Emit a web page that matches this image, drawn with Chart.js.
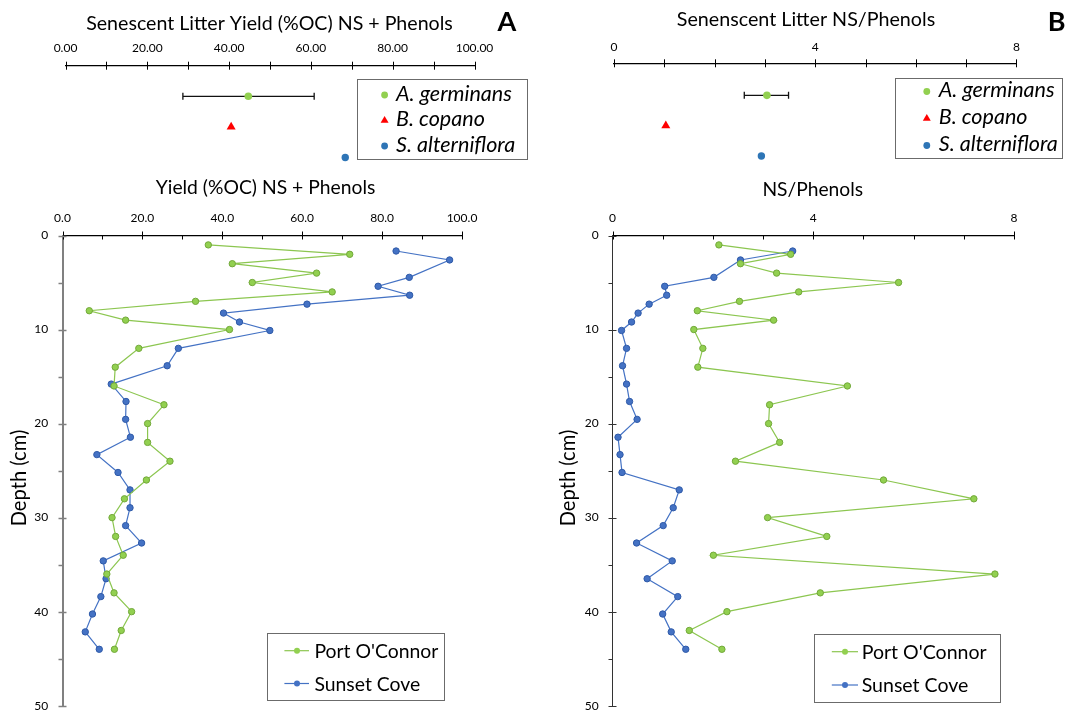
<!DOCTYPE html>
<html><head><meta charset="utf-8">
<script src="https://cdn.jsdelivr.net/npm/chart.js@4.4.1/dist/chart.umd.min.js"></script>
<style>
html,body{margin:0;padding:0;background:#fff;}
#wrap{position:relative;width:1072px;height:715px;overflow:hidden;background:#fff}
canvas{position:absolute;left:0;top:0}
</style></head><body>
<div id="wrap">
<canvas id="cTopA" width="1072" height="715"></canvas>
<canvas id="cTopB" width="1072" height="715"></canvas>
<canvas id="cBotA" width="1072" height="715"></canvas>
<canvas id="cBotB" width="1072" height="715"></canvas>
</div>
<script>
// ---------------- data ----------------
const litterSpecies = ['A. germinans', 'B. copano', 'S. alterniflora'];
const litterYield = [44.7, 40.5, 68.4];
const litterYieldErrLow = [28.7, null, null];
const litterYieldErrHigh = [60.8, null, null];
const litterNS = [3.04, 1.03, 2.93];
const litterNSErrLow = [2.59, null, null];
const litterNSErrHigh = [3.47, null, null];

const sites = ["Port O'Connor", 'Sunset Cove'];
const depthPOC = [1, 2, 3, 4, 5, 6, 7, 8, 9, 10, 12, 14, 16, 18, 20, 22, 24, 26, 28, 30, 32, 34, 36, 38, 40, 42, 44];
const depthSC = [1.65, 2.6, 4.45, 5.4, 6.35, 7.3, 8.25, 9.2, 10.1, 12.0, 13.85, 15.8, 17.65, 19.55, 21.45, 23.3, 25.2, 27.05, 28.95, 30.85, 32.7, 34.6, 36.5, 38.4, 40.25, 42.15, 44.0];
const yieldPOC = [36.5, 71.9, 42.5, 63.6, 47.5, 67.5, 33.3, 6.7, 15.8, 41.8, 19.1, 13.2, 12.9, 25.4, 21.3, 21.3, 26.9, 21.0, 15.5, 12.4, 13.3, 15.2, 11.1, 12.9, 17.3, 14.7, 13.0];
const yieldSC = [83.5, 96.9, 86.8, 79.0, 86.9, 61.2, 40.3, 44.3, 51.9, 29.0, 26.2, 12.2, 15.9, 15.8, 17.0, 8.6, 13.9, 16.9, 16.9, 15.8, 19.8, 10.2, 10.9, 9.6, 7.5, 5.7, 9.2];
const nsPOC = [2.12, 3.55, 2.55, 3.27, 5.70, 3.71, 2.53, 1.69, 3.21, 1.62, 1.80, 1.70, 4.68, 3.13, 3.11, 3.33, 2.45, 5.40, 7.20, 3.09, 4.27, 2.01, 7.62, 4.14, 2.28, 1.53, 2.18];
const nsSC = [3.59, 2.55, 2.02, 1.04, 1.08, 0.73, 0.51, 0.38, 0.18, 0.28, 0.20, 0.28, 0.34, 0.49, 0.11, 0.15, 0.19, 1.33, 1.21, 1.01, 0.48, 1.19, 0.69, 1.30, 1.00, 1.17, 1.46];

const yieldTickLabels = [0, 20, 40, 60, 80, 100];
const nsTickLabels = [0, 4, 8];
const depthTickLabels = [0, 10, 20, 30, 40, 50];

// ---------------- styling ----------------
const FONT = 'Lato, "Open Sans", "Noto Sans", sans-serif';
const litterColors = ['#92d050', '#ff0000', '#2e75b6'];
const litterStyles = ['circle', 'triangle', 'circle'];
const litterRadius = [3.8, 5.2, 3.7];
const siteLine = ['#8cc650', '#4472c4'];
const siteFill = ['#92d050', '#4472c4'];
const siteBorder = ['#72a83a', '#2f5aa8'];

const mctx = document.createElement('canvas').getContext('2d');
function fitFont(text, target, style) {
  mctx.font = style + ' 100px ' + FONT;
  const w = mctx.measureText(text).width;
  return style + ' ' + (100 * target / w).toFixed(2) + 'px ' + FONT;
}

const DECOR = {
  cTopA: {
    err: {lo: litterYieldErrLow, hi: litterYieldErrHigh},
    xMajor: yieldTickLabels, xMinorUp: true, tickLen: 4,
    texts: [
      {t: 'Senescent Litter Yield (%OC) NS + Phenols', x: 269.5, y: 30, w: 366.7, style: 'normal'},
      {t: 'A', x: 507, y: 30.7, font: 'bold 27px ' + FONT}
    ],
    legend: {x: 357.4, y: 79, w: 170, h: 80.3, mx: 384.6, tx: 396, rows: [95, 120.5, 146], dy: 5.5,
             fitText: 'A. germinans', fitW: 116, style: 'italic'}
  },
  cTopB: {
    err: {lo: litterNSErrLow, hi: litterNSErrHigh},
    xMajor: nsTickLabels, xMinorUp: true, tickLen: 4,
    texts: [
      {t: 'Senenscent Litter NS/Phenols', x: 806, y: 26, w: 258.6, style: 'normal'},
      {t: 'B', x: 1056.7, y: 30.5, font: 'bold 27px ' + FONT}
    ],
    legend: {x: 895.3, y: 77.7, w: 167.3, h: 79.6, mx: 926.8, tx: 938.7, rows: [91.5, 118.5, 145.5], dy: 5.5,
             fitText: 'A. germinans', fitW: 116, style: 'italic'}
  },
  cBotA: {
    xMajor: yieldTickLabels, xMinorUp: false, tickLen: 4,
    yMajor: depthTickLabels, yColor: '#808080', yWidth: 1.5,
    texts: [
      {t: 'Yield (%OC) NS + Phenols', x: 265.5, y: 194, w: 219.7, style: 'normal'},
      {t: 'Depth (cm)', x: 19.1, y: 478, w: 96.7, style: 'normal', rot: true}
    ],
    legend: {x: 266.5, y: 633.3, w: 177, h: 66.7, lx: [284.4, 309], mx: 297, tx: 314.4, rows: [650.7, 683.5], dy: 7,
             fitText: "Port O'Connor", fitW: 124, style: 'normal', lines: true}
  },
  cBotB: {
    xMajor: nsTickLabels, xMinorUp: false, tickLen: 4,
    yMajor: depthTickLabels, yColor: '#333333', yWidth: 1,
    texts: [
      {t: 'NS/Phenols', x: 812.7, y: 196, w: 100.7, style: 'normal'},
      {t: 'Depth (cm)', x: 568, y: 478, w: 96.7, style: 'normal', rot: true}
    ],
    legend: {x: 814.2, y: 634, w: 185.5, h: 67.7, lx: [831.8, 858], mx: 845, tx: 861.7, rows: [651.7, 685], dy: 7,
             fitText: "Port O'Connor", fitW: 125, style: 'normal', lines: true}
  }
};

function drawMarker(ctx, style, x, y, r, fill, stroke) {
  ctx.beginPath();
  if (style === 'triangle') {
    let a = 0;
    ctx.moveTo(x + Math.sin(a) * r, y - Math.cos(a) * r);
    a += 2 * Math.PI / 3; ctx.lineTo(x + Math.sin(a) * r, y - Math.cos(a) * r);
    a += 2 * Math.PI / 3; ctx.lineTo(x + Math.sin(a) * r, y - Math.cos(a) * r);
    ctx.closePath();
  } else {
    ctx.arc(x, y, r, 0, Math.PI * 2);
  }
  ctx.fillStyle = fill; ctx.fill();
  if (stroke) { ctx.strokeStyle = stroke; ctx.lineWidth = 1; ctx.stroke(); }
}

const decorPlugin = {
  id: 'decor',
  beforeDatasetsDraw(chart) {
    const d = DECOR[chart.canvas.id];
    if (!d.err) return;
    const ctx = chart.ctx, xs = chart.scales.x, ys = chart.scales.y;
    ctx.save();
    ctx.strokeStyle = '#111'; ctx.lineWidth = 1.3;
    d.err.lo.forEach((lo, i) => {
      const hi = d.err.hi[i];
      if (lo == null || hi == null) return;
      const y = ys.getPixelForValue(i + 1), x1 = xs.getPixelForValue(lo), x2 = xs.getPixelForValue(hi);
      ctx.beginPath();
      ctx.moveTo(x1, y); ctx.lineTo(x2, y);
      ctx.moveTo(x1, y - 3.5); ctx.lineTo(x1, y + 3.5);
      ctx.moveTo(x2, y - 3.5); ctx.lineTo(x2, y + 3.5);
      ctx.stroke();
    });
    ctx.restore();
  },
  afterDraw(chart) {
    const d = DECOR[chart.canvas.id];
    const ctx = chart.ctx, ca = chart.chartArea, xs = chart.scales.x;
    ctx.save();
    // x-axis tick marks
    ctx.strokeStyle = '#000'; ctx.lineWidth = 1;
    xs.ticks.forEach(t => {
      const px = Math.round(xs.getPixelForValue(t.value)) + 0.5;
      const major = d.xMajor.includes(t.value);
      const up = (major || d.xMinorUp) ? d.tickLen : 0;
      ctx.beginPath(); ctx.moveTo(px, ca.top - up); ctx.lineTo(px, ca.top + d.tickLen); ctx.stroke();
    });
    // y-axis tick marks
    if (d.yMajor) {
      const ys = chart.scales.y;
      ctx.strokeStyle = d.yColor; ctx.lineWidth = d.yWidth;
      ys.ticks.forEach(t => {
        const py = Math.round(ys.getPixelForValue(t.value)) + 0.5;
        const major = d.yMajor.includes(t.value);
        ctx.beginPath(); ctx.moveTo(ca.left - 4, py); ctx.lineTo(ca.left + (major ? 4 : 0), py); ctx.stroke();
      });
    }
    // texts
    ctx.fillStyle = '#000';
    d.texts.forEach(t => {
      ctx.font = t.font || fitFont(t.t, t.w, t.style);
      ctx.textAlign = 'center';
      if (t.rot) {
        ctx.save(); ctx.translate(t.x, t.y); ctx.rotate(-Math.PI / 2);
        ctx.textBaseline = 'middle'; ctx.fillText(t.t, 0, 0); ctx.restore();
      } else {
        ctx.textBaseline = 'alphabetic'; ctx.fillText(t.t, t.x, t.y);
      }
    });
    // legend
    const L = d.legend;
    if (L) {
      ctx.strokeStyle = '#6b6b6b'; ctx.lineWidth = 1;
      ctx.strokeRect(Math.round(L.x) + 0.5, Math.round(L.y) + 0.5, Math.round(L.w), Math.round(L.h));
      const font = fitFont(L.fitText, L.fitW, L.style);
      chart.data.datasets.forEach((ds, i) => {
        const y = L.rows[i];
        if (L.lines) {
          ctx.strokeStyle = ds.borderColor; ctx.lineWidth = 1.2;
          ctx.beginPath(); ctx.moveTo(L.lx[0], y); ctx.lineTo(L.lx[1], y); ctx.stroke();
          drawMarker(ctx, 'circle', L.mx, y, 3, ds.pointBackgroundColor, null);
        } else {
          drawMarker(ctx, ds.pointStyle, L.mx, y, ds.pointStyle === 'triangle' ? 4.6 : 3.4, ds.backgroundColor, null);
        }
        ctx.fillStyle = '#000'; ctx.font = font; ctx.textAlign = 'left'; ctx.textBaseline = 'alphabetic';
        ctx.fillText(ds.label, L.tx, y + L.dy);
      });
    }
    ctx.restore();
  }
};

const baseOpts = {
  responsive: false, animation: false, devicePixelRatio: 1, events: [],
  plugins: {legend: {display: false}, tooltip: {enabled: false}, title: {display: false}}
};

function xScale(max, step, labels, fmt, height, pad, size) {
  return {
    type: 'linear', position: 'top', min: 0, max: max,
    ticks: {stepSize: step, autoSkip: false, maxRotation: 0, minRotation: 0, padding: pad, color: '#000',
            font: {family: FONT, size: size},
            callback: v => labels.includes(v) ? fmt(v) : ''},
    grid: {display: false, drawTicks: false},
    border: {display: true, color: '#000', width: 1.2},
    afterFit: s => { s.height = height; s.paddingLeft = 0; s.paddingRight = 0; }
  };
}

function topChart(id, values, max, step, labels, fmt, pad, yMin, axisH, labelPad) {
  new Chart(document.getElementById(id), {
    type: 'scatter',
    data: {
      datasets: litterSpecies.map((sp, i) => ({
        label: sp, data: [{x: values[i], y: i + 1}],
        pointStyle: litterStyles[i], pointRadius: litterRadius[i], borderWidth: 0,
        backgroundColor: litterColors[i], borderColor: litterColors[i], clip: false
      }))
    },
    options: Object.assign({}, baseOpts, {
      layout: {padding: pad},
      scales: {
        x: xScale(max, step, labels, fmt, axisH, labelPad, 12),
        y: {type: 'linear', display: false, reverse: true, min: yMin, max: 3.4}
      }
    }),
    plugins: [decorPlugin]
  });
}

function depthChart(id, xPOC, xSC, max, step, labels, fmt, pad, yWidth, yColor, yBorderW, yPad) {
  const series = [xPOC, xSC], depths = [depthPOC, depthSC];
  new Chart(document.getElementById(id), {
    type: 'scatter',
    data: {
      datasets: sites.map((s, i) => ({
        label: s, data: series[i].map((v, k) => ({x: v, y: depths[i][k]})),
        showLine: true, tension: 0, borderColor: siteLine[i], borderWidth: 1.2,
        pointRadius: 3.2, pointBorderWidth: 1,
        pointBackgroundColor: siteFill[i], pointBorderColor: siteBorder[i], clip: false
      }))
    },
    options: Object.assign({}, baseOpts, {
      layout: {padding: pad},
      scales: {
        x: xScale(max, step, labels, fmt, 65.5, 10, 12),
        y: {
          type: 'linear', position: 'left', reverse: true, min: 0, max: 50,
          ticks: {stepSize: 5, autoSkip: false, padding: yPad, color: '#000', font: {family: FONT, size: 12},
                  callback: v => depthTickLabels.includes(v) ? String(v) : ''},
          grid: {display: false, drawTicks: false},
          border: {display: true, color: yColor, width: yBorderW},
          afterFit: s => { s.width = yWidth; s.paddingTop = 0; s.paddingBottom = 0; }
        }
      }
    }),
    plugins: [decorPlugin]
  });
}

// top panels (y: species rows 1..3, top to bottom)
topChart('cTopA', litterYield, 100, 10, yieldTickLabels, v => v.toFixed(2),
  {left: 65.5, right: 1072 - 474.5, top: 0, bottom: 715 - 169.7}, 0, 65.7, 10.2);
topChart('cTopB', litterNS, 8, 1, nsTickLabels, v => String(v),
  {left: 614, right: 1072 - 1016.4, top: 0, bottom: 715 - 168.2}, -0.056, 63.3, 9.4);

// depth profiles
depthChart('cBotA', yieldPOC, yieldSC, 100, 10, yieldTickLabels, v => v.toFixed(1),
  {left: 0, right: 1072 - 462, top: 170, bottom: 715 - 705.7}, 62.5, '#808080', 2, 14.3);
depthChart('cBotB', nsPOC, nsSC, 8, 1, nsTickLabels, v => String(v),
  {left: 540, right: 1072 - 1014, top: 170, bottom: 715 - 705.7}, 72.5, '#333333', 1, 13.8);
</script>
</body></html>
